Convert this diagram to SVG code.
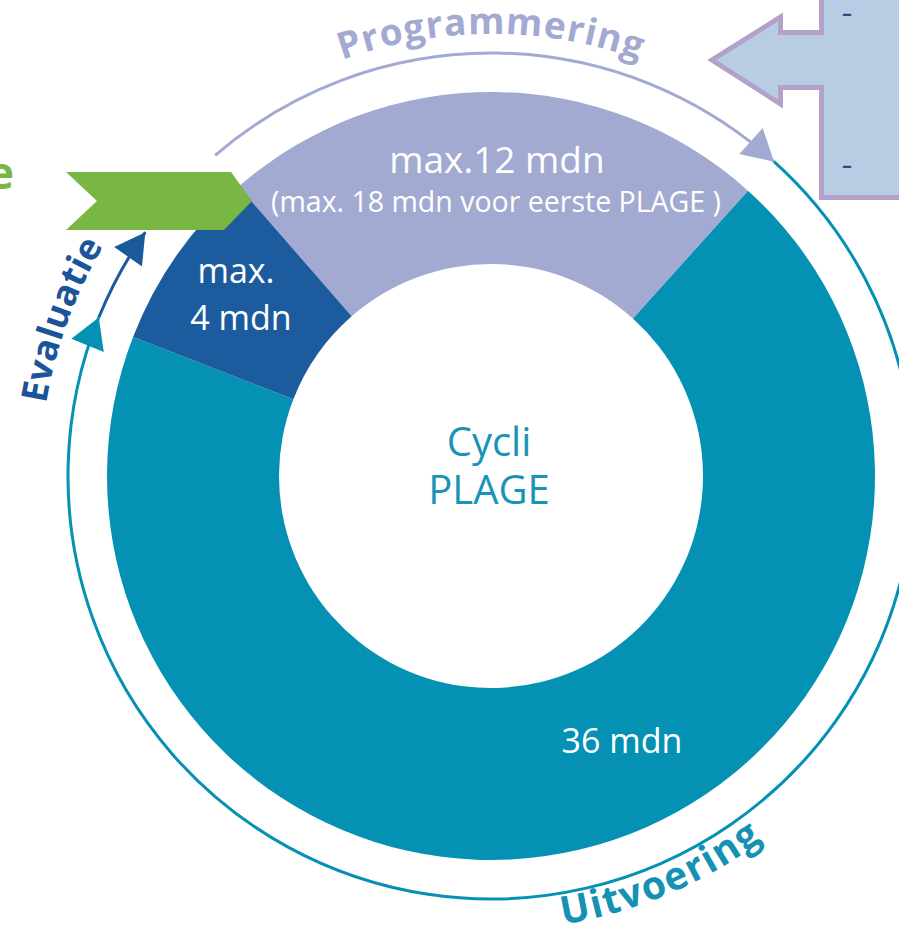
<svg xmlns="http://www.w3.org/2000/svg" width="899" height="938" viewBox="0 0 899 938">
  <style>
    .w { fill: #ffffff; font-family: "Open Sans", "Noto Sans", sans-serif; text-anchor: middle; }
    .lbl { font-family: "Open Sans", "Noto Sans", sans-serif; font-weight: 700; }
    .arc { fill: none; stroke-width: 3; }
    .dash { font-family: "Open Sans", "Noto Sans", sans-serif; font-weight: 700; fill: #1f4e8c; }
  </style>
  <defs>
    <marker id="ahLav" markerUnits="userSpaceOnUse" markerWidth="32" markerHeight="36" refX="31" refY="17.5" orient="auto" overflow="visible">
      <path d="M0,0 L31,17.5 L0,35 Z" fill="#a3aad2"/>
    </marker>
    <marker id="ahTeal" markerUnits="userSpaceOnUse" markerWidth="32" markerHeight="36" refX="30" refY="17.5" orient="auto" overflow="visible">
      <path d="M0,0 L30,17.5 L0,35 Z" fill="#0591b3"/>
    </marker>
    <marker id="ahBlue" markerUnits="userSpaceOnUse" markerWidth="32" markerHeight="36" refX="30" refY="17" orient="auto" overflow="visible">
      <path d="M0,0 L30,17 L0,34 Z" fill="#1c5a9c"/>
    </marker>
    <path id="pProg" d="M 49,476 A 442 442 0 0 1 933,476"/>
    <path id="pUit" d="M 72.17,653.78 A 455 455 0 0 0 909.83,298.22"/>
    <path id="pEval" d="M 336.41,900.74 A 452 452 0 0 1 645.59,51.26"/>
  </defs>

  <rect width="899" height="938" fill="#ffffff"/>

  <g id="wedge-teal">
    <path d="M 747.95,190.63 A 384 384 0 1 1 133.06,336.95 L 293.39,399.23 A 212 212 0 1 0 632.86,318.45 Z" fill="#0591b3"/>
    <text class="w" x="622" y="753" font-size="34">36 mdn</text>
  </g>
  <g id="wedge-programmering">
    <path d="M 238.67,186.54 A 384 384 0 0 1 747.95,190.63 L 632.86,318.45 A 212 212 0 0 0 351.69,316.20 Z" fill="#a3aad2"/>
    <text class="w" x="497" y="173" font-size="37">max.12 mdn</text>
    <text class="w" x="496" y="212" font-size="28.5">(max. 18 mdn voor eerste PLAGE )</text>
  </g>
  <g id="wedge-evaluatie">
    <path d="M 133.06,336.95 A 384 384 0 0 1 238.67,186.54 L 351.69,316.20 A 212 212 0 0 0 293.39,399.23 Z" fill="#1c5c9e"/>
    <text class="w" font-size="34"><tspan x="236" y="283">max.</tspan><tspan x="241" y="330">4 mdn</tspan></text>
  </g>
  <g id="center">
    <text font-family="Open Sans, Noto Sans, sans-serif" font-size="40" fill="#1a94b6" text-anchor="middle"><tspan x="489" y="456">Cycli</tspan><tspan x="489" y="504">PLAGE</tspan></text>
  </g>

  <g id="green-chevron">
    <polygon points="66,172 231,172 252,201 224,230 66,230 97,201" fill="#78b743"/>
    <text class="lbl" x="14" y="189" font-size="44" fill="#78b743" text-anchor="end">e</text>
  </g>

  <g id="connectors">
    <path class="arc" d="M 215.16,155.31 A 423 423 0 0 1 774.04,161.65" stroke="#a3aad2" marker-end="url(#ahLav)"/>
    <path class="arc" d="M 774.04,161.65 A 423 423 0 1 1 98.8,317.54" stroke="#0591b3" marker-end="url(#ahTeal)"/>
    <path class="arc" d="M 98.8,317.54 A 423 423 0 0 1 145.35,232.17" stroke="#1c5a9c" marker-end="url(#ahBlue)"/>
  </g>

  <g id="labels">
    <text class="lbl" font-size="37" fill="#a3aad2" letter-spacing="1"><textPath href="#pProg" startOffset="50%" text-anchor="middle">Programmering</textPath></text>
    <text class="lbl" font-size="39" fill="#1591b4" letter-spacing="1.5"><textPath href="#pUit" startOffset="50%" text-anchor="middle">Uitvoering</textPath></text>
    <text class="lbl" font-size="36" fill="#1b5499" letter-spacing="0.3"><textPath href="#pEval" startOffset="50%" text-anchor="middle">Evaluatie</textPath></text>
  </g>

  <g id="callout-box">
    <path d="M 821.5,-10 L 821.5,32.5 L 780.5,32.5 L 780.5,17 L 712,60 L 780.5,104 L 780.5,87.5 L 821.5,87.5 L 821.5,197.5 L 910,197.5 L 910,-10 Z" fill="#b8cce4" stroke="#b4a0c8" stroke-width="5" stroke-linejoin="miter"/>
    <text class="dash" x="842" y="19.5" font-size="18" textLength="10" lengthAdjust="spacingAndGlyphs">-</text>
    <text class="dash" x="842" y="172" font-size="18" textLength="10" lengthAdjust="spacingAndGlyphs">-</text>
  </g>
</svg>
